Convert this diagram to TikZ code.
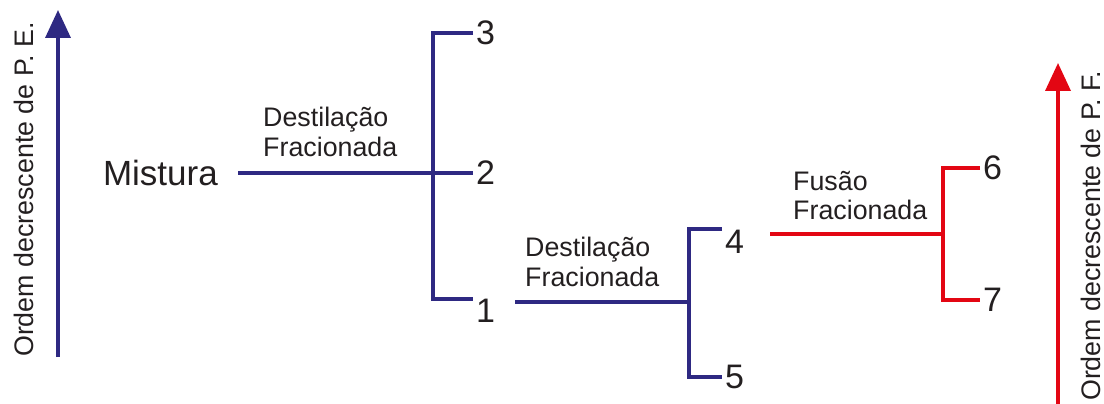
\documentclass[tikz,border=0pt]{standalone}
\usepackage{fontspec}
\setmainfont{Liberation Sans}
\usetikzlibrary{arrows.meta}
\definecolor{navy}{RGB}{46,41,130}
\definecolor{sepred}{RGB}{227,6,19}
\definecolor{ink}{RGB}{35,31,32}
\tikzset{
  bluepath/.style={draw=navy, line width=4pt},
  redpath/.style={draw=sepred, line width=4pt},
  axisarrow/.style={line width=3.6pt, -{Triangle[length=28pt,width=25pt]}},
  digit/.style={inner xsep=3pt, inner ysep=0pt, text=ink, font=\fontsize{34}{38}\selectfont},
  process/.style={inner sep=0pt, align=left, text=ink, font=\fontsize{26.8}{29.5}\selectfont},
  axislabel/.style={rotate=90, anchor=base west, inner sep=0pt, text=ink, font=\fontsize{26.8}{30}\selectfont},
}
\begin{document}
\begin{tikzpicture}[x=1pt, y=-1pt]
\useasboundingbox (0,0) rectangle (1104,404);

% vertical axes
\coordinate (eb) at (58,357);
\coordinate (et) at (58,10);
\draw[axisarrow, navy] (eb) -- (et);
\node[axislabel] (pe) at (33,357) {Ordem decrescente de P. E.};

\coordinate (fb) at (1058,406);
\coordinate (ft) at (1058,63);
\draw[axisarrow, sepred] (fb) -- (ft);
\node[axislabel] (pf) at (1100,401) {Ordem decrescente de P. F.};

% first fractional distillation
\coordinate (s1) at (238,173);
\node[anchor=east, inner xsep=20pt, inner ysep=0pt, text=ink, font=\fontsize{35}{39}\selectfont] (mix) at (s1) {Mistura};
\coordinate (jA) at (433,173);
\coordinate (e3) at (473,33);
\coordinate (e2) at (473,173);
\coordinate (e1) at (473,299);
\node[digit, anchor=west] (n3) at (e3) {3};
\node[digit, anchor=west] (n2) at (e2) {2};
\node[digit, anchor=north west] (n1) at (e1) {1};
\node[process, anchor=north west] (d1) at (263,107) {Destilação\\Fracionada};
\draw[bluepath] (mix.east) -- (jA) -- (n2.west);
\draw[bluepath] (n3.west) -| (jA) |- (e1);

% second fractional distillation
\coordinate (s2) at (515,302);
\coordinate (jB) at (689,302);
\coordinate (e4) at (722,229);
\coordinate (e5) at (722,377);
\node[digit, anchor=north west] (n4) at ([yshift=-1pt]e4) {4};
\node[digit, anchor=west] (n5) at (e5) {5};
\node[process, anchor=north west] (d2) at (525,237) {Destilação\\Fracionada};
\draw[bluepath] (s2) -- (jB);
\draw[bluepath] (e4) -| (jB) |- (n5.west);

% fractional melting
\coordinate (s3) at (770,234);
\coordinate (jC) at (943,234);
\coordinate (e6) at (980,168);
\coordinate (e7) at (980,300);
\node[digit, anchor=west] (n6) at (e6) {6};
\node[digit, anchor=west] (n7) at (e7) {7};
\node[process, anchor=north west] (f1) at (793,171) {Fusão\\Fracionada};
\draw[redpath] (s3) -- (jC);
\draw[redpath] (n6.west) -| (jC) |- (n7.west);
\end{tikzpicture}
\end{document}
